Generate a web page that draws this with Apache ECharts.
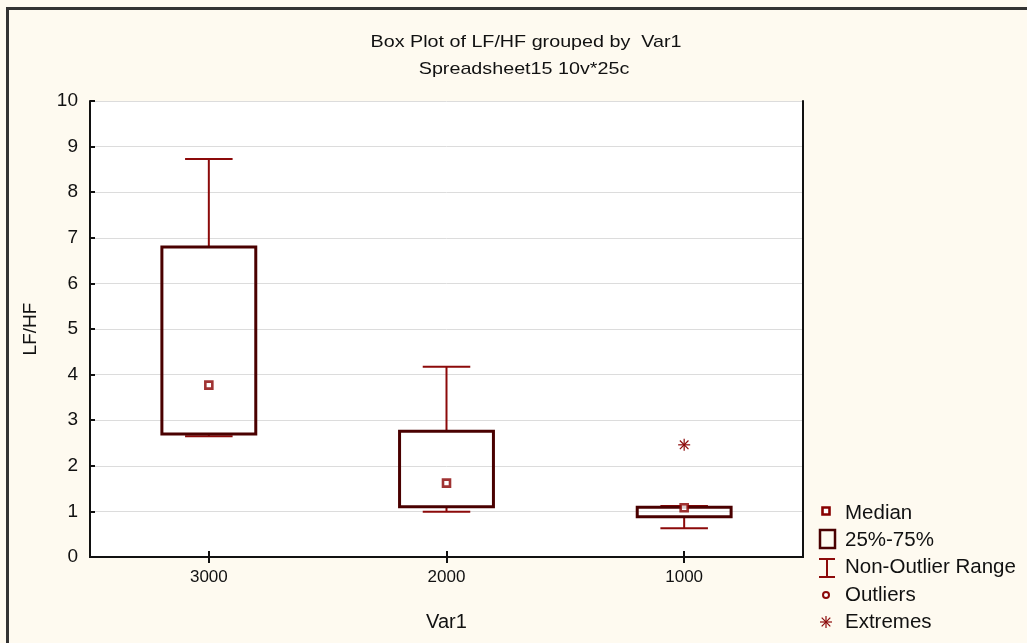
<!DOCTYPE html>
<html><head><meta charset="utf-8">
<script src="https://cdn.jsdelivr.net/npm/echarts@6/dist/echarts.min.js"></script>
<style>html,body{margin:0;padding:0;background:#fefaf0;}#c{width:1027px;height:643px;}</style>
</head><body><div id="c"></div>
<script>
const categories = ['3000', '2000', '1000'];
const whiskerLow = [2.65, 0.99, 0.63];
const q1 = [2.70, 1.10, 0.88];
const median = [3.77, 1.62, 1.08];
const q3 = [6.80, 2.76, 1.09];
const whiskerHigh = [8.73, 4.17, 1.12];
const extremes = [['1000', 2.46]];
const outliers = [];
const yTicks = [0, 1, 2, 3, 4, 5, 6, 7, 8, 9, 10];
const titleText = 'Box Plot of LF/HF grouped by  Var1';
const subtitleText = 'Spreadsheet15 10v*25c';
const legendLabels = ['Median', '25%-75%', 'Non-Outlier Range', 'Outliers', 'Extremes'];

const boxRows = categories.map((c, i) => [i, whiskerLow[i], q1[i], median[i], q3[i], whiskerHigh[i]]);
const medianRows = categories.map((c, i) => [c, median[i]]);

const WC = '#8c0a0a', BC = '#4a0000', MC = '#880000', FONT = 'Liberation Sans, Arial, sans-serif';
const legendY = [513, 540, 567, 595, 622];

const chart = echarts.init(document.getElementById('c'), null, {renderer: 'canvas'});
chart.setOption({
  backgroundColor: '#fefaf0',
  animation: false,
  grid: {left: 90, top: 101, width: 713, height: 456, show: true, backgroundColor: '#ffffff', borderWidth: 0},
  xAxis: [
    {type: 'category', data: categories, name: 'Var1', nameLocation: 'middle', nameGap: 55,
     nameTextStyle: {fontFamily: FONT, fontSize: 20, color: '#111'},
     axisLine: {lineStyle: {color: '#111', width: 2}},
     axisTick: {show: true, inside: true, alignWithLabel: true, length: 6, lineStyle: {color: '#111', width: 2}},
     axisLabel: {fontFamily: FONT, fontSize: 17, color: '#111', margin: 12},
     splitLine: {show: false}},
    {type: 'category', data: categories, position: 'top',
     axisLine: {lineStyle: {color: '#111', width: 2}},
     axisTick: {show: true, inside: true, alignWithLabel: true, length: 6, lineStyle: {color: '#111', width: 2}},
     axisLabel: {show: false}, splitLine: {show: false}}
  ],
  yAxis: [
    {type: 'value', min: yTicks[0], max: yTicks[yTicks.length - 1], interval: 1, name: 'LF/HF', nameLocation: 'middle', nameGap: 50,
     nameTextStyle: {fontFamily: FONT, fontSize: 19, color: '#111'},
     axisLine: {show: true, lineStyle: {color: '#111', width: 2}},
     axisTick: {show: true, inside: true, length: 5, lineStyle: {color: '#111', width: 2}},
     axisLabel: {fontFamily: FONT, fontSize: 19, color: '#111', margin: 12},
     splitLine: {show: true, lineStyle: {color: '#dcdcdc', width: 1}}},
    {type: 'value', min: yTicks[0], max: yTicks[yTicks.length - 1], interval: 1, position: 'right',
     axisLine: {show: true, lineStyle: {color: '#111', width: 2}},
     axisTick: {show: false}, axisLabel: {show: false}, splitLine: {show: false}}
  ],
  series: [
    {type: 'custom', name: 'Box', data: boxRows, z: 2,
     renderItem: function (params, api) {
       const x = api.value(0);
       const band = api.size([1, 0])[0];
       const bw = band * 0.395, cw = band * 0.2;
       const pL = api.coord([x, api.value(1)]);
       const p1 = api.coord([x, api.value(2)]);
       const p3 = api.coord([x, api.value(4)]);
       const pH = api.coord([x, api.value(5)]);
       const cx = pL[0];
       const ws = {stroke: WC, lineWidth: 2};
       return {type: 'group', children: [
         {type: 'line', shape: {x1: cx, y1: p3[1], x2: cx, y2: pH[1]}, style: ws},
         {type: 'line', shape: {x1: cx - cw / 2, y1: pH[1], x2: cx + cw / 2, y2: pH[1]}, style: ws},
         {type: 'line', shape: {x1: cx, y1: p1[1], x2: cx, y2: pL[1]}, style: ws},
         {type: 'line', shape: {x1: cx - cw / 2, y1: pL[1], x2: cx + cw / 2, y2: pL[1]}, style: ws},
         {type: 'rect', shape: {x: cx - bw / 2, y: p3[1], width: bw, height: p1[1] - p3[1]},
          style: {fill: 'none', stroke: BC, lineWidth: 3}}
       ]};
     }},
    {type: 'scatter', name: 'Median', data: medianRows, z: 5, symbol: 'rect', symbolSize: 7,
     itemStyle: {color: '#ffffff', borderColor: MC, borderWidth: 2.6}},
    {type: 'scatter', name: 'Outliers', data: outliers, symbol: 'circle', symbolSize: 7,
     itemStyle: {color: '#fff', borderColor: WC, borderWidth: 2}},
    {type: 'custom', name: 'Extremes', data: extremes, z: 5,
     renderItem: function (params, api) {
       const p = api.coord([api.value(0), api.value(1)]);
       const r = 6, d = 4.3, st = {stroke: WC, lineWidth: 1.2};
       return {type: 'group', children: [
         {type: 'line', shape: {x1: p[0], y1: p[1] - r, x2: p[0], y2: p[1] + r}, style: st},
         {type: 'line', shape: {x1: p[0] - r, y1: p[1], x2: p[0] + r, y2: p[1]}, style: st},
         {type: 'line', shape: {x1: p[0] - d, y1: p[1] - d, x2: p[0] + d, y2: p[1] + d}, style: st},
         {type: 'line', shape: {x1: p[0] - d, y1: p[1] + d, x2: p[0] + d, y2: p[1] - d}, style: st}
       ]};
     }}
  ],
  graphic: [
    {type: 'rect', shape: {x: 6, y: 7, width: 1030, height: 3}, style: {fill: '#333'}},
    {type: 'rect', shape: {x: 6, y: 7, width: 3, height: 640}, style: {fill: '#333'}},
    {type: 'text', x: 526, y: 42, scaleX: 1.16,
     style: {text: titleText, x: 0, y: 0, align: 'center', verticalAlign: 'middle', font: '17px ' + FONT, fill: '#111'}},
    {type: 'text', x: 524, y: 69, scaleX: 1.16,
     style: {text: subtitleText, x: 0, y: 0, align: 'center', verticalAlign: 'middle', font: '17px ' + FONT, fill: '#111'}},
    // legend
    {type: 'rect', shape: {x: 822.5, y: 507.5, width: 7, height: 7}, style: {fill: '#fff', stroke: MC, lineWidth: 2.6}},
    {type: 'rect', shape: {x: 820, y: 530, width: 15, height: 18}, style: {fill: 'none', stroke: BC, lineWidth: 2.5}},
    {type: 'line', shape: {x1: 827, y1: 559, x2: 827, y2: 577}, style: {stroke: WC, lineWidth: 2}},
    {type: 'line', shape: {x1: 819, y1: 559, x2: 835, y2: 559}, style: {stroke: WC, lineWidth: 2}},
    {type: 'line', shape: {x1: 819, y1: 577, x2: 835, y2: 577}, style: {stroke: WC, lineWidth: 2}},
    {type: 'circle', shape: {cx: 826, cy: 595, r: 3}, style: {fill: '#fff', stroke: WC, lineWidth: 2}},
    {type: 'line', shape: {x1: 826, y1: 616, x2: 826, y2: 628}, style: {stroke: WC, lineWidth: 1.2}},
    {type: 'line', shape: {x1: 820, y1: 622, x2: 832, y2: 622}, style: {stroke: WC, lineWidth: 1.2}},
    {type: 'line', shape: {x1: 821.7, y1: 617.7, x2: 830.3, y2: 626.3}, style: {stroke: WC, lineWidth: 1.2}},
    {type: 'line', shape: {x1: 821.7, y1: 626.3, x2: 830.3, y2: 617.7}, style: {stroke: WC, lineWidth: 1.2}}
  ].concat(legendLabels.map((t, i) => ({type: 'text',
     style: {text: t, x: 845, y: legendY[i], font: '20.5px ' + FONT, fill: '#111', verticalAlign: 'middle'}})))
});
</script></body></html>
